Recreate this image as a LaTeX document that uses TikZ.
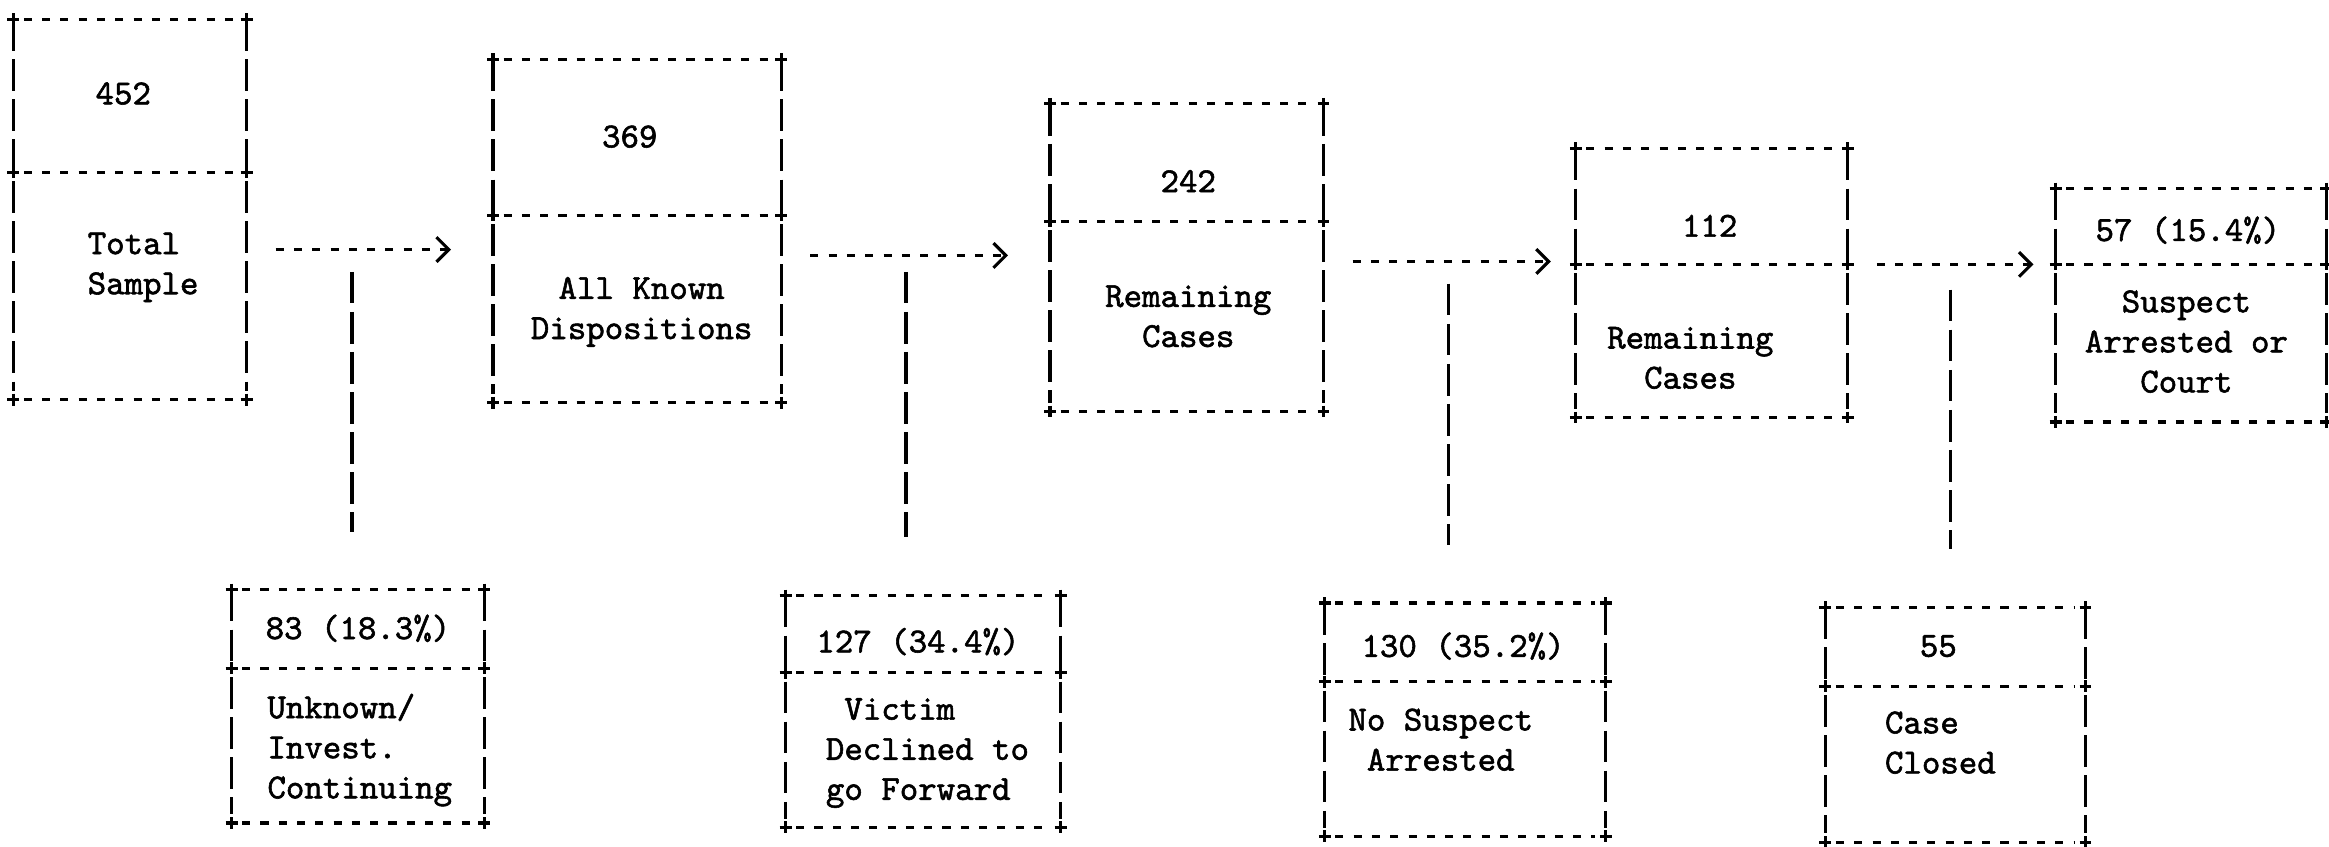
\documentclass[tikz,border=0pt]{standalone}
\usepackage{fontspec}
\newfontfamily\typed[FakeBold=1.6]{Latin Modern Mono}
\usepackage{tikz}
\usetikzlibrary{arrows.meta,fit}

\begin{document}
\begin{tikzpicture}[x=0.014853cm, y=-0.014853cm, line width=0.9pt,
    frame/.style={inner sep=0pt, draw=none},
    hdash/.style={dash pattern=on 2.3pt off 2.9pt, shorten <=3pt, shorten >=3pt},
    vdash/.style={dash pattern=on 9pt off 2.4pt, shorten <=2.5pt, shorten >=2.5pt},
    stem/.style={dash pattern=on 9pt off 2.4pt, shorten >=0.58cm},
    flow/.style={dash pattern=on 2.3pt off 2.9pt, shorten <=0.29cm,
      -{Straight Barb[length=3.5pt,width=7pt,line width=0.9pt]}},
    txt/.style={font=\fontsize{10}{11.4}\selectfont\typed, inner sep=0pt}]

  \useasboundingbox (0,0) rectangle (1568,570);

  % Boxes
  \node[frame, fit={(10,14) (165,268)}] (total) {};
  \node[frame, fit={(333,41) (525,270)}] (known) {};
  \node[frame, fit={(708,71) (890,276)}] (remA) {};
  \node[frame, fit={(1062,101) (1243,280)}] (remB) {};
  \node[frame, fit={(1385,128) (1565,283)}] (court) {};
  \node[frame, fit={(157,398) (325,553)}] (unknown) {};
  \node[frame, fit={(530,402) (713,556)}] (victim) {};
  \node[frame, fit={(893,407) (1080,562)}] (nosusp) {};
  \node[frame, fit={(1230,410) (1403,566)}] (closed) {};

  % Box outlines, typed style
  \foreach \b/\d in {total/116, known/145, remA/149, remB/178, court/178,
      unknown/450, victim/453, nosusp/459, closed/462} {
    \coordinate (dl) at (\b.west |- 0,\d);
    \coordinate (dr) at (\b.east |- 0,\d);
    \draw[hdash] (\b.north west) -- (\b.north east);
    \draw[hdash] (dl) -- (dr);
    \draw[hdash] (\b.south west) -- (\b.south east);
    \draw[vdash] (\b.north west) -- (dl) (dl) -- (\b.south west);
    \draw[vdash] (\b.north east) -- (dr) (dr) -- (\b.south east);
    \foreach \p in {\b.north west, \b.north east, dl, dr, \b.south west, \b.south east}
      \draw (\p) +(-4,0) -- +(4,0) +(0,-4) -- +(0,4);
  }

  % Text
  \node[txt] (totalnum) at (83,63) {452};
  \node[txt, anchor=west, align=left] (totaltxt) at (58,180) {Total\\Sample};
  \node[txt] (knownnum) at (424,92) {369};
  \node[txt, align=center] (knowntxt) at (432,210) {All Known\\Dispositions};
  \node[txt] (remAnum) at (800,122) {242};
  \node[txt, align=center] (remAtxt) at (800,213) {Remaining\\Cases};
  \node[txt] (remBnum) at (1151,152) {112};
  \node[txt, align=center] (remBtxt) at (1138,241) {Remaining\\Cases};
  \node[txt] (courtnum) at (1473,155) {57 (15.4\%)};
  \node[txt, align=center] (courttxt) at (1472,230) {Suspect\\Arrested or\\Court};
  \node[txt] (unknownnum) at (241,423) {83 (18.3\%)};
  \node[txt, anchor=west, align=left] (unknowntxt) at (179,505)
    {Unknown/\\Invest.\\Continuing};
  \node[txt] (victimnum) at (618,432) {127 (34.4\%)};
  \node[txt, anchor=west, align=left] (victimtxt) at (555,507)
    {\hphantom{x}Victim\\Declined to\\go Forward};
  \node[txt] (nosuspnum) at (985,435) {130 (35.2\%)};
  \node[txt, align=center] (nosusptxt) at (970,498) {No Suspect\\Arrested};
  \node[txt] (closednum) at (1305,435) {55};
  \node[txt, anchor=west, align=left] (closedtxt) at (1268,500) {Case\\Closed};

  % Flow arrows
  \foreach \a/\b/\y/\s in {total/known/168/0.42cm, known/remA/172/0.42cm,
      remA/remB/176/0.25cm, remB/court/178/0.22cm}
    \draw[flow, shorten >=\s] (\a.east |- 0,\y) -- (\b.west |- 0,\y);

  % Stems down to the side boxes
  \coordinate (s1) at (237,183);
  \coordinate (s2) at (610,183);
  \coordinate (s3) at (975,191);
  \coordinate (s4) at (1313,195);
  \draw[stem] (s1) -- (s1 |- unknown.north);
  \draw[stem] (s2) -- (s2 |- victim.north);
  \draw[stem] (s3) -- (s3 |- nosusp.north);
  \draw[stem] (s4) -- (s4 |- closed.north);
\end{tikzpicture}
\end{document}
